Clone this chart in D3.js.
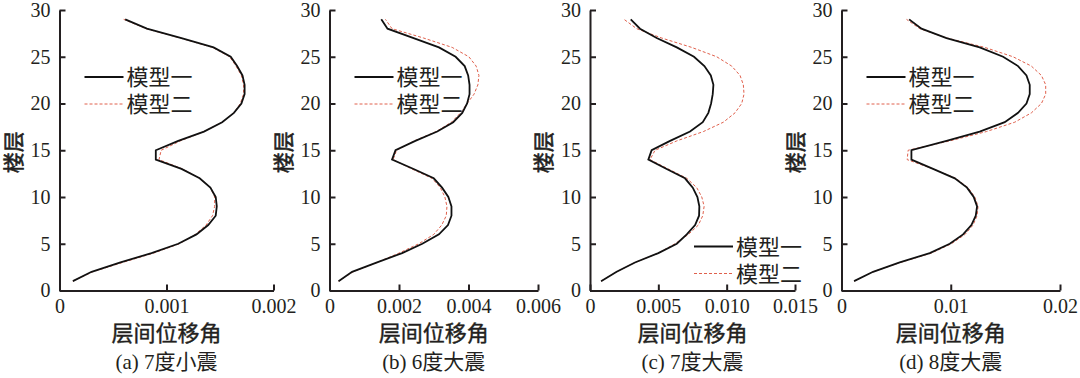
<!DOCTYPE html>
<html>
<head>
<meta charset="utf-8">
<script src="https://cdn.jsdelivr.net/npm/d3@7"></script>
<style>
    body { margin: 0; background: #fff; }
    svg text { fill: #231f20; }
    .cjk { font-family: "Liberation Serif", "Noto Sans CJK SC", serif; }
</style>
</head>
<body>
<div id="chart"></div>
<script>

// floors (y axis)
const floors = [1, 2, 3, 4, 5, 6, 7, 8, 9, 10, 11, 12, 13, 14, 15, 16, 17, 18, 19, 20, 21, 22, 23, 24, 25, 26, 27, 28, 29];
const floorTicks = [0, 5, 10, 15, 20, 25, 30];

// (a) 7度小震
const model1A = [0.000125, 0.00030, 0.00057, 0.00086, 0.00111, 0.00128, 0.00139, 0.00146, 0.00147, 0.00146, 0.00141, 0.00131, 0.00114, 0.00090, 0.00090, 0.00111, 0.00135, 0.00152, 0.00163, 0.00170, 0.00173, 0.00173, 0.00171, 0.00166, 0.00160, 0.00144, 0.00114, 0.000817, 0.000614];
const model2A = [0.000125, 0.00031, 0.00059, 0.00088, 0.00112, 0.00127, 0.00137, 0.00143, 0.00145, 0.00145, 0.00141, 0.00131, 0.00115, 0.00093, 0.00095, 0.00113, 0.00135, 0.00152, 0.00163, 0.00169, 0.00172, 0.00172, 0.00170, 0.00165, 0.00159, 0.00143, 0.00113, 0.00081, 0.00060];
const xTicksA = [0, 0.001, 0.002];
const xLabelsA = ["0", "0.001", "0.002"];

// (b) 6度大震
const model1B = [0.00026, 0.00065, 0.00137, 0.00209, 0.00267, 0.00315, 0.00341, 0.00351, 0.00351, 0.00342, 0.00324, 0.00300, 0.00242, 0.00180, 0.00190, 0.00247, 0.00310, 0.00356, 0.00382, 0.00396, 0.00403, 0.00403, 0.00399, 0.00389, 0.00363, 0.00315, 0.00242, 0.00167, 0.00149];
const model2B = [0.00026, 0.00068, 0.00137, 0.00200, 0.00257, 0.00300, 0.00323, 0.00336, 0.00338, 0.00332, 0.00319, 0.00295, 0.00237, 0.00183, 0.00193, 0.00244, 0.00307, 0.00351, 0.00377, 0.00396, 0.00416, 0.00427, 0.00430, 0.00422, 0.00401, 0.00353, 0.00271, 0.00180, 0.00161];
const xTicksB = [0, 0.002, 0.004, 0.006];
const xLabelsB = ["0", "0.002", "0.004", "0.006"];

// (c) 7度大震
const model1C = [0.00081, 0.00195, 0.00329, 0.00500, 0.00635, 0.00708, 0.00769, 0.00798, 0.00800, 0.00786, 0.00752, 0.00695, 0.00561, 0.00427, 0.00451, 0.00586, 0.00732, 0.00825, 0.00866, 0.00886, 0.00898, 0.00903, 0.00884, 0.00837, 0.00761, 0.00635, 0.00488, 0.00366, 0.00298];
const model2C = [0.00081, 0.00195, 0.00329, 0.00500, 0.00622, 0.00720, 0.00793, 0.00825, 0.00835, 0.00818, 0.00781, 0.00708, 0.00573, 0.00439, 0.00476, 0.00635, 0.00830, 0.00976, 0.01061, 0.01110, 0.01127, 0.01122, 0.01098, 0.01037, 0.00927, 0.00744, 0.00525, 0.00342, 0.00249];
const xTicksC = [0, 0.005, 0.010, 0.015];
const xLabelsC = ["0", "0.005", "0.010", "0.015"];

// (d) 8度大震
const model1D = [0.00115, 0.00289, 0.00533, 0.00808, 0.00991, 0.01113, 0.01189, 0.01229, 0.01241, 0.01210, 0.01149, 0.01037, 0.00838, 0.00640, 0.00640, 0.00961, 0.01265, 0.01494, 0.01616, 0.01693, 0.01723, 0.01723, 0.01693, 0.01616, 0.01479, 0.01265, 0.00961, 0.00732, 0.00619];
const model2D = [0.00115, 0.00289, 0.00540, 0.00823, 0.01006, 0.01131, 0.01204, 0.01241, 0.01250, 0.01220, 0.01159, 0.01046, 0.00838, 0.00601, 0.00610, 0.00991, 0.01327, 0.01586, 0.01738, 0.01830, 0.01869, 0.01869, 0.01830, 0.01738, 0.01570, 0.01311, 0.00967, 0.00717, 0.00595];
const xTicksD = [0, 0.01, 0.02];
const xLabelsD = ["0", "0.01", "0.02"];

const seriesNames = ["模型一", "模型二"];
const captions = ["(a) 7度小震", "(b) 6度大震", "(c) 7度大震", "(d) 8度大震"];
const xTitle = "层间位移角";
const yTitle = "楼层";

// layout
const width = 1080, height = 378;
const panels = [
    {m1: model1A, m2: model2A, ticks: xTicksA, labels: xLabelsA, x0: 59.5, x1: 273.5, legendY: 77},
    {m1: model1B, m2: model2B, ticks: xTicksB, labels: xLabelsB, x0: 329.5, x1: 538, legendY: 77},
    {m1: model1C, m2: model2C, ticks: xTicksC, labels: xLabelsC, x0: 590, x1: 795, legendY: 246.5},
    {m1: model1D, m2: model2D, ticks: xTicksD, labels: xLabelsD, x0: 841.5, x1: 1060, legendY: 77}
];
const yTop = 10, yBottom = 290.5;
const serif = '"Liberation Serif", "Times New Roman", serif';

const svg = d3.select("#chart").append("svg")
    .attr("width", width)
    .attr("height", height);

const y = d3.scaleLinear().domain([0, 30]).range([yBottom, yTop]);

// axis styling shared by both axes
function styleAxis(a) {
    a.attr("font-family", serif).attr("font-size", 20);
    a.selectAll("path,line").attr("stroke", "#231f20").attr("stroke-width", 2);
    a.selectAll("text").attr("fill", "#231f20");
}

panels.forEach((p, i) => {
    let x = d3.scaleLinear().domain([0, p.ticks[p.ticks.length - 1]]).range([p.x0, p.x1]);
    let g = svg.append("g").attr("class", "panel");

    // axes
    g.append("g")
        .attr("transform", `translate(${p.x0},0)`)
        .call(d3.axisLeft(y).tickValues(floorTicks).tickSizeInner(-6).tickSizeOuter(0).tickPadding(9))
        .call(styleAxis);

    g.append("g")
        .attr("transform", `translate(0,${yBottom})`)
        .call(d3.axisBottom(x).tickValues(p.ticks).tickFormat((d, k) => p.labels[k])
            .tickSizeInner(-6).tickSizeOuter(0).tickPadding(8))
        .call(styleAxis);

    // lines
    let line1 = d3.line().x(d => x(d[1])).y(d => y(d[0]));
    g.append("path")
        .datum(floors.map((f, k) => [f, p.m2[k]]))
        .attr("d", line1)
        .attr("fill", "none")
        .attr("stroke", "#e0604c")
        .attr("stroke-width", 1)
        .attr("stroke-dasharray", "3,2");
    g.append("path")
        .datum(floors.map((f, k) => [f, p.m1[k]]))
        .attr("d", line1)
        .attr("fill", "none")
        .attr("stroke", "#111")
        .attr("stroke-width", 1.8);

    // legend
    let lx = i === 2 ? p.x0 + 104 : p.x0 + 25;
    let leg = g.append("g").attr("transform", `translate(${lx},${p.legendY})`);
    seriesNames.forEach((name, k) => {
        leg.append("line")
            .attr("x1", 0).attr("x2", 39)
            .attr("y1", k * 27).attr("y2", k * 27)
            .attr("stroke", k === 0 ? "#111" : "#e0604c")
            .attr("stroke-width", k === 0 ? 1.8 : 1)
            .attr("stroke-dasharray", k === 0 ? null : "3,2");
        leg.append("text")
            .attr("class", "cjk")
            .attr("x", 42)
            .attr("y", k * 27 + 8)
            .style("font-size", "22px")
            .text(name);
    });

    // titles
    let cx = (p.x0 + p.x1) / 2;
    g.append("text")
        .attr("class", "cjk")
        .attr("x", cx)
        .attr("y", 341)
        .attr("text-anchor", "middle")
        .style("font-size", "22px")
        .attr("stroke", "#231f20")
        .attr("stroke-width", 0.4)
        .text(xTitle);
    g.append("text")
        .attr("class", "cjk")
        .attr("x", cx)
        .attr("y", 369)
        .attr("text-anchor", "middle")
        .style("font-size", "21px")
        .text(captions[i]);
    g.append("text")
        .attr("class", "cjk")
        .attr("transform", `translate(${p.x0 - 39},${(yTop + yBottom) / 2 + 2}) rotate(-90)`)
        .attr("text-anchor", "middle")
        .style("font-size", "21px")
        .attr("stroke", "#231f20")
        .attr("stroke-width", 0.6)
        .text(yTitle);
});

</script>
</body>
</html>
